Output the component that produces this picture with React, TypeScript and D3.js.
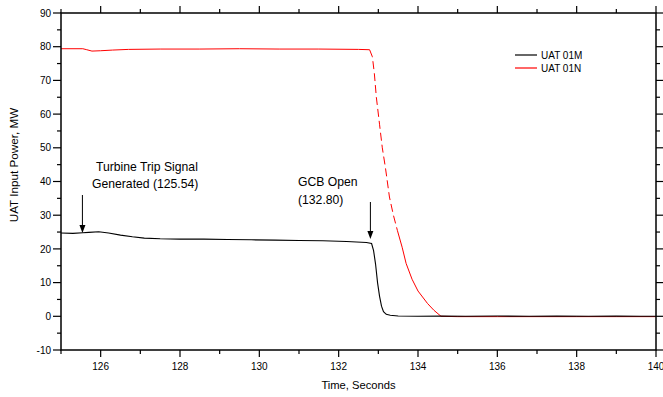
import React from "react";
import * as d3 from "d3";

const blackT = [125.0, 125.3, 125.55, 125.7, 125.95, 126.2, 126.5, 126.8, 127.1, 127.5, 128.0, 128.6, 129.2, 129.8, 130.4, 131.0, 131.6, 132.2, 132.7, 132.83, 132.88, 132.93, 132.98, 133.03, 133.08, 133.13, 133.2, 133.3, 133.5, 134.0, 134.6, 135.2, 136.0, 136.8, 137.5, 138.3, 139.0, 139.6, 140.0];
const blackV = [24.7, 24.6, 24.8, 24.9, 25.1, 24.7, 24.1, 23.6, 23.2, 23.0, 22.9, 22.9, 22.8, 22.7, 22.6, 22.5, 22.4, 22.2, 21.9, 21.6, 19.5, 15.5, 10.0, 6.0, 3.0, 1.4, 0.6, 0.3, 0.1, 0.0, 0.1, 0.0, 0.1, 0.0, 0.1, 0.0, 0.1, 0.0, 0.0];

const redDashT = [132.78, 132.85, 132.9, 132.95, 133.03, 133.1, 133.18, 133.28, 133.38, 133.48];
const redDashV = [79.1, 77.0, 72.0, 65.0, 57.0, 50.0, 44.0, 35.4, 30.0, 25.5];
const redSolidT = [125.0, 125.55, 125.65, 125.78, 126.0, 126.3, 126.7, 127.5, 128.5, 129.5, 130.5, 131.5, 132.5, 132.78];
const redSolidV = [79.4, 79.4, 79.1, 78.7, 78.8, 79.0, 79.2, 79.3, 79.3, 79.4, 79.3, 79.3, 79.2, 79.1];
const redTailT = [133.48, 133.6, 133.7, 133.85, 134.0, 134.24, 134.4, 134.58, 135.0, 136.0, 137.0, 138.0, 139.0, 140.0];
const redTailV = [25.5, 20.5, 15.7, 11.0, 7.5, 3.8, 1.8, 0.0, -0.1, -0.1, -0.1, -0.1, -0.1, -0.1];

const xMajor = [126, 128, 130, 132, 134, 136, 138, 140];
const xMinor = [125, 127, 129, 131, 133, 135, 137, 139];
const yMajor = [-10, 0, 10, 20, 30, 40, 50, 60, 70, 80, 90];
const yMinor = [-5, 5, 15, 25, 35, 45, 55, 65, 75, 85];

const legendNames = ["UAT 01M", "UAT 01N"];
const legendColors = ["#000000", "#ff0000"];

const L = 61, R = 656, T = 13, B = 350;

export default function App() {
  const x = d3.scaleLinear().domain([125, 140]).range([L, R]);
  const y = d3.scaleLinear().domain([-10, 90]).range([B, T]);
  const line = d3.line<[number, number]>().x((d) => x(d[0])).y((d) => y(d[1]));
  const zip = (a: number[], b: number[]) => a.map((t, i) => [t, b[i]] as [number, number]);
  const font = "'Liberation Sans', Arial, sans-serif";

  return (
    <svg width={663} height={397} style={{ position: "absolute", left: 0, top: 0, background: "#fff" }} fontFamily={font}>
      <defs>
        <clipPath id="clip">
          <rect x={L} y={T} width={R - L} height={B - T} />
        </clipPath>
      </defs>
      <g clipPath="url(#clip)">
        <path d={line(zip(redSolidT, redSolidV)) || ""} fill="none" stroke="#ff0000" strokeWidth={1} />
        <path d={line(zip(redDashT, redDashV)) || ""} fill="none" stroke="#ff0000" strokeWidth={1} strokeDasharray="8,4" />
        <path d={line(zip(redTailT, redTailV)) || ""} fill="none" stroke="#ff0000" strokeWidth={1} />
        <path d={line(zip(blackT, blackV)) || ""} fill="none" stroke="#000000" strokeWidth={1.1} />
      </g>
      <rect x={L} y={T} width={R - L} height={B - T} fill="none" stroke="#000" strokeWidth={1.5} />
      {xMajor.map((v) => (
        <g key={"xm" + v}>
          <line x1={x(v)} x2={x(v)} y1={B} y2={B + 7} stroke="#000" strokeWidth={1.2} />
          <line x1={x(v)} x2={x(v)} y1={T} y2={T - 7} stroke="#000" strokeWidth={1.2} />
          <text x={x(v)} y={B + 20} fontSize={10} textAnchor="middle">{v}</text>
        </g>
      ))}
      {xMinor.map((v) => (
        <g key={"xn" + v}>
          <line x1={x(v)} x2={x(v)} y1={B} y2={B + 4} stroke="#000" strokeWidth={1.2} />
          <line x1={x(v)} x2={x(v)} y1={T} y2={T - 4} stroke="#000" strokeWidth={1.2} />
        </g>
      ))}
      {yMajor.map((v) => (
        <g key={"ym" + v}>
          <line x1={L} x2={L - 8} y1={y(v)} y2={y(v)} stroke="#000" strokeWidth={1.2} />
          <line x1={R} x2={R + 7} y1={y(v)} y2={y(v)} stroke="#000" strokeWidth={1.2} />
          <text x={L - 10} y={y(v) + 3.6} fontSize={10} textAnchor="end">{v}</text>
        </g>
      ))}
      {yMinor.map((v) => (
        <g key={"yn" + v}>
          <line x1={L} x2={L - 4} y1={y(v)} y2={y(v)} stroke="#000" strokeWidth={1.2} />
          <line x1={R} x2={R + 4} y1={y(v)} y2={y(v)} stroke="#000" strokeWidth={1.2} />
        </g>
      ))}
      <text x={(L + R) / 2} y={389} fontSize={11.2} textAnchor="middle">Time, Seconds</text>
      <text transform={`translate(18,165) rotate(-90)`} fontSize={11.7} textAnchor="middle">UAT Input Power, MW</text>
      {legendNames.map((n, i) => (
        <g key={n}>
          <line x1={515} x2={537} y1={55 + i * 13} y2={55 + i * 13} stroke={legendColors[i]} strokeWidth={1.2} />
          <text x={541} y={55 + i * 13 + 3.5} fontSize={10}>{n}</text>
        </g>
      ))}
      <text x={96} y={171} fontSize={12.2}>Turbine Trip Signal</text>
      <text x={92} y={188} fontSize={12.2}>Generated (125.54)</text>
      <line x1={x(125.54)} x2={x(125.54)} y1={195} y2={226} stroke="#000" strokeWidth={1} />
      <path d={`M${x(125.54) - 3},${225} L${x(125.54) + 3},${225} L${x(125.54)},${233} Z`} fill="#000" />
      <text x={298} y={186} fontSize={12.2}>GCB Open</text>
      <text x={298} y={204} fontSize={12.2}>(132.80)</text>
      <line x1={x(132.8)} x2={x(132.8)} y1={202} y2={232} stroke="#000" strokeWidth={1} />
      <path d={`M${x(132.8) - 3},${231} L${x(132.8) + 3},${231} L${x(132.8)},${239} Z`} fill="#000" />
    </svg>
  );
}
